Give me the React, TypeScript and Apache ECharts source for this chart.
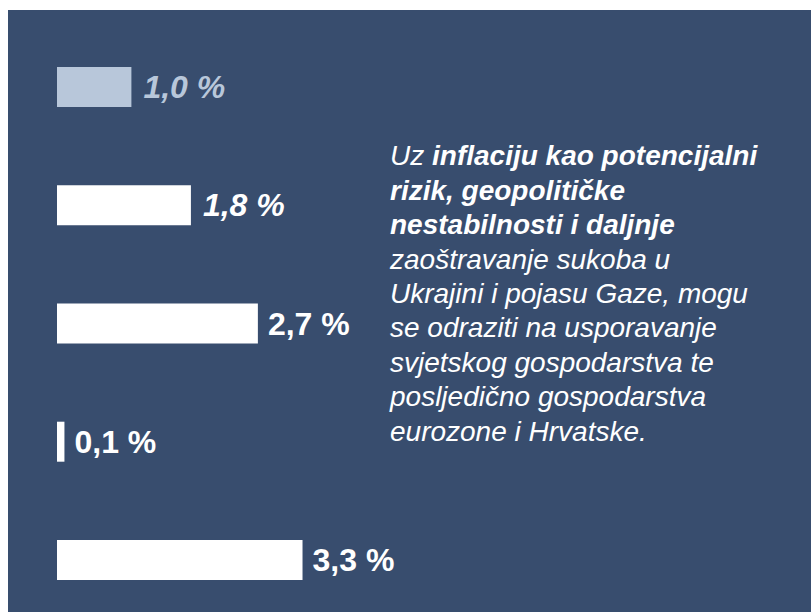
import React, { useEffect, useRef } from 'react';
import * as echarts from 'echarts';

const categories = ['Stavka 1', 'Stavka 2', 'Stavka 3', 'Stavka 4', 'Stavka 5'];
const values = [1.0, 1.8, 2.7, 0.1, 3.3];
const italicLabels = [true, true, false, false, false];
const mutedBars = [true, false, false, false, false];

const textLines: [string, string][][] = [
  [['n', 'Uz '], ['b', 'inflaciju kao potencijalni']],
  [['b', 'rizik, geopolitičke']],
  [['b', 'nestabilnosti i daljnje']],
  [['n', 'zaoštravanje sukoba u']],
  [['n', 'Ukrajini i pojasu Gaze, mogu']],
  [['n', 'se odraziti na usporavanje']],
  [['n', 'svjetskog gospodarstva te']],
  [['n', 'posljedično gospodarstva']],
  [['n', 'eurozone i Hrvatske.']],
];

const BG = '#384d6e';
const MUTED = '#b8c7da';
const FONT = '"Liberation Sans", Arial, Helvetica, sans-serif';

export default function App() {
  const ref = useRef<HTMLDivElement>(null);
  useEffect(() => {
    if (!ref.current) return;
    const chart = echarts.init(ref.current, undefined, { renderer: 'svg' });
    const richText = textLines
      .map((line) => line.map(([s, t]) => `{${s}|${t}}`).join(''))
      .join('\n');
    chart.setOption({
      animation: false,
      backgroundColor: BG,
      grid: { left: 49, width: 744, top: 18, height: 591, containLabel: false, outerBoundsMode: 'none' },
      xAxis: { type: 'value', min: 0, max: 10, show: false },
      yAxis: { type: 'category', data: categories, inverse: true, show: false },
      series: [
        {
          type: 'bar',
          barWidth: 40,
          data: values.map((v, i) => ({
            value: v,
            itemStyle: { color: mutedBars[i] ? MUTED : '#ffffff' },
            label: {
              color: mutedBars[i] ? MUTED : '#ffffff',
              fontStyle: italicLabels[i] ? 'italic' : 'normal',
              distance: italicLabels[i] ? 12 : 10,
            },
          })),
          label: {
            show: true,
            position: 'right',
            distance: 10,
            fontFamily: FONT,
            fontWeight: 'bold',
            fontSize: 32,
            formatter: (p: any) => p.value.toFixed(1).replace('.', ',') + ' %',
          },
        },
      ],
      graphic: [
        {
          type: 'text',
          left: 382,
          top: 132,
          style: {
            text: richText,
            fill: '#ffffff',
            font: `italic 28px ${FONT}`,
            rich: {
              n: { fontStyle: 'italic', fontWeight: 'normal', fontSize: 28, lineHeight: 34.4, fontFamily: FONT, fill: '#ffffff' },
              b: { fontStyle: 'italic', fontWeight: 'bold', fontSize: 28, lineHeight: 34.4, fontFamily: FONT, fill: '#ffffff' },
            },
          },
        },
      ],
    });
    return () => chart.dispose();
  }, []);
  return (
    <div
      ref={ref}
      style={{ position: 'absolute', left: 8, top: 10, width: 803, height: 602, background: BG }}
    />
  );
}
